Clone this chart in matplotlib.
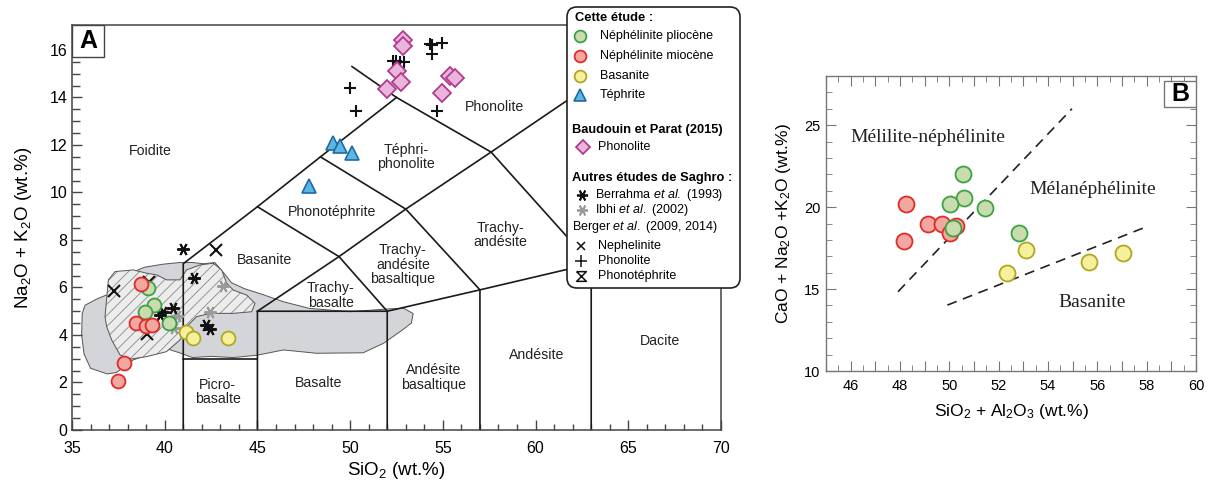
import numpy as np
import matplotlib.pyplot as plt
from matplotlib.patches import Polygon, FancyBboxPatch, Rectangle
from matplotlib.path import Path
from matplotlib.ticker import MultipleLocator, FuncFormatter

plt.rcParams['font.family'] = ['Liberation Sans', 'DejaVu Sans']
plt.rcParams['mathtext.fontset'] = 'custom'
plt.rcParams['mathtext.rm'] = 'Liberation Sans'
plt.rcParams['mathtext.it'] = 'Liberation Sans:italic'
plt.rcParams['mathtext.bf'] = 'Liberation Sans:bold'
plt.rcParams['hatch.linewidth'] = 0.6

# ---- panel A data (SiO2, Na2O+K2O) ----
plio_sio2 = [39.08, 39.42, 38.92, 40.24]
plio_alk = [5.98, 5.28, 4.96, 4.52]
mio_sio2 = [38.71, 38.47, 38.98, 39.32, 37.80, 37.50]
mio_alk = [6.15, 4.52, 4.37, 4.40, 2.83, 2.06]
bas_sio2 = [41.16, 41.50, 43.41]
bas_alk = [4.14, 3.88, 3.86]
teph_sio2 = [49.09, 49.45, 50.08, 47.78]
teph_alk = [12.10, 11.95, 11.68, 10.28]
bp_sio2 = [52.83, 52.83, 52.55, 52.73, 52.00, 55.38, 55.68, 54.93]
bp_alk = [16.42, 16.17, 15.13, 14.67, 14.34, 14.91, 14.81, 14.18]
berrahma_sio2 = [40.97, 41.57, 40.44, 39.93, 39.74, 42.24, 42.42]
berrahma_alk = [7.62, 6.40, 5.15, 4.96, 4.84, 4.42, 4.24]
ibhi_sio2 = [43.16, 42.42, 40.64, 40.50]
ibhi_alk = [6.06, 4.96, 4.80, 4.30]
berger_neph_sio2 = [37.26, 42.75, 39.05, 39.15]
berger_neph_alk = [5.87, 7.58, 4.05, 6.25]
berger_phono_sio2 = [49.99, 50.31, 52.30, 52.50, 52.70, 52.90, 54.30, 54.44, 54.98, 54.42, 54.71]
berger_phono_alk = [14.41, 13.45, 15.52, 15.52, 15.50, 15.50, 16.25, 16.22, 16.28, 15.82, 13.45]

# TAS field boundaries
tas_lines = [
    [(41, 0), (41, 7), (45, 9.4), (48.4, 11.5), (52.5, 14.0)],
    [(41, 3), (45, 3)],
    [(45, 0), (45, 5), (49.4, 7.3), (53, 9.3), (57.6, 11.7), (63, 14.56)],
    [(45, 9.4), (49.4, 7.3), (52, 5), (52, 0)],
    [(45, 5), (52, 5), (57, 5.9), (63, 7)],
    [(48.4, 11.5), (53, 9.3), (57, 5.9), (57, 0)],
    [(50.1, 15.3), (52.5, 14.0), (57.6, 11.7), (63, 7), (63, 0)],
]
tas_labels = [
    (39.23, 11.75, "Foidite"), (57.8, 13.6, "Phonolite"), (53.0, 11.5, "Téphri-\nphonolite"),
    (49.04, 9.18, "Phonotéphrite"), (58.1, 8.2, "Trachy-\nandésite"), (45.38, 7.16, "Basanite"),
    (52.85, 6.95, "Trachy-\nandésite\nbasaltique"), (48.96, 5.66, "Trachy-\nbasalte"),
    (42.87, 1.6, "Picro-\nbasalte"), (48.3, 1.98, "Basalte"), (54.5, 2.2, "Andésite\nbasaltique"),
    (60.07, 3.16, "Andésite"), (66.7, 3.75, "Dacite"),
]
gray_field = [
    (35.55, 4.9), (35.7, 5.25), (36.3, 5.5), (36.9, 5.7), (37.6, 6.3), (38.3, 6.65), (38.9, 6.85),
    (39.9, 6.98), (40.8, 7.05), (41.5, 7.05), (42.1, 7.0), (42.7, 7.05), (43.2, 6.6), (43.6, 6.2),
    (44.3, 5.95), (45.3, 5.7), (46.4, 5.4), (47.8, 5.12), (50.0, 4.98), (52.1, 5.1), (52.9, 5.12),
    (53.4, 4.9), (53.3, 4.5), (52.8, 4.2), (51.8, 3.65), (50.7, 3.25), (48.2, 3.23), (46.4, 3.37),
    (45.0, 3.15), (43.7, 3.05), (42.5, 3.1), (41.5, 3.05), (40.8, 3.25), (40.2, 3.4), (39.2, 3.2),
    (38.3, 2.95), (37.4, 2.42), (36.9, 2.36), (36.0, 2.6), (35.65, 3.2), (35.52, 4.0),
]
hatch_field = [
    (36.78, 4.77), (36.96, 6.32), (37.32, 6.67), (38.30, 6.74), (39.03, 6.60), (39.57, 6.53),
    (40.1, 6.32), (40.82, 6.32), (41.18, 6.74), (41.9, 6.95), (42.62, 7.02), (43.07, 6.74),
    (43.34, 6.18), (43.7, 5.89), (44.42, 5.68), (44.87, 5.33), (44.69, 4.98), (43.70, 4.91),
    (42.44, 4.91), (41.72, 4.77), (41.18, 4.35), (40.82, 3.79), (40.10, 3.30), (39.03, 3.09),
    (38.13, 2.98), (37.59, 3.16), (37.14, 3.79), (36.87, 4.35),
]

# ---- panel B data (SiO2+Al2O3, CaO+Na2O+K2O) ----
b_plio_x = [50.57, 50.61, 50.03, 51.46, 50.13, 52.82]
b_plio_y = [22.05, 20.57, 20.22, 19.92, 18.70, 18.40]
b_mio_x = [48.26, 48.16, 49.12, 49.72, 50.27, 50.03]
b_mio_y = [20.17, 17.94, 19.00, 19.00, 18.84, 18.42]
b_bas_x = [53.09, 52.34, 55.67, 57.03]
b_bas_y = [17.38, 15.99, 16.67, 17.18]
b_line1_x = [47.92, 54.97]
b_line1_y = [14.84, 26.0]
b_line2_x = [49.92, 57.99]
b_line2_y = [14.02, 18.8]
b_labels = [(49.14, 24.25, "Mélilite-néphélinite"), (55.8, 21.1, "Mélanéphélinite"), (55.8, 14.2, "Basanite")]

# marker styles
GREEN = dict(marker='o', mfc='#c8dcae', mec='#3da145', mew=1.3, ls='none')
RED = dict(marker='o', mfc='#f2a7a0', mec='#e02b2b', mew=1.3, ls='none')
YELLOW = dict(marker='o', mfc='#f6ef9c', mec='#b0a823', mew=1.3, ls='none')
BLUE = dict(marker='^', mfc='#5cb6e2', mec='#1f6aa5', mew=1.2, ls='none')
PINK = dict(marker='D', mfc='#e9b5da', mec='#b03b8f', mew=1.3, ls='none')
AST = (6, 2, 90)
HOURGLASS = Path([(-1, 1), (1, 1), (-1, -1), (1, -1), (-1, 1)])

fig = plt.figure(figsize=(12.15, 4.86), dpi=100)

# ===== panel A =====
ax = fig.add_axes([72 / 1215, 1 - 430 / 486, 649 / 1215, 405 / 486])
ax.set_xlim(35, 70)
ax.set_ylim(0, 17.05)
ax.add_patch(Polygon(gray_field, closed=True, fc='#d3d5d8', ec='#555555', lw=0.7, zorder=1))
ax.add_patch(Polygon(hatch_field, closed=True, fc='#ececec', ec='#8a8a8a', lw=0, hatch='///', zorder=1.2))
ax.add_patch(Polygon(hatch_field, closed=True, fc='none', ec='#555555', lw=0.7, zorder=1.3))
for seg in tas_lines:
    xs, ys = zip(*seg)
    ax.plot(xs, ys, color='#1a1a1a', lw=1.2, zorder=2, solid_joinstyle='miter')
for x, y, s in tas_labels:
    ax.text(x, y, s, ha='center', va='center', fontsize=10.2, color='#222222', linespacing=1.05, zorder=2.5)

ax.plot(ibhi_sio2, ibhi_alk, ls='none', marker=AST, ms=9, mec='#9a9a9a', mew=1.4, zorder=3)
ax.plot(berrahma_sio2, berrahma_alk, ls='none', marker=AST, ms=9, mec='#111111', mew=1.4, zorder=3)
ax.plot(berger_neph_sio2, berger_neph_alk, ls='none', marker='x', ms=8, mec='#111111', mew=1.5, zorder=3)
ax.plot(berger_phono_sio2, berger_phono_alk, ls='none', marker='+', ms=9, mec='#111111', mew=1.5, zorder=3)
ax.plot(plio_sio2, plio_alk, ms=10, zorder=4, **GREEN)
ax.plot(mio_sio2, mio_alk, ms=10, zorder=4, **RED)
ax.plot(bas_sio2, bas_alk, ms=10, zorder=4, **YELLOW)
ax.plot(teph_sio2, teph_alk, ms=10, zorder=4, **BLUE)
ax.plot(bp_sio2, bp_alk, ms=9.5, zorder=4, **PINK)

ax.xaxis.set_major_locator(MultipleLocator(5))
ax.xaxis.set_minor_locator(MultipleLocator(1))
ax.yaxis.set_major_locator(MultipleLocator(2))
ax.yaxis.set_minor_locator(MultipleLocator(0.5))
ax.tick_params(which='both', direction='in', labelsize=11.5, color='#444444', width=1)
ax.tick_params(which='major', length=7)
ax.tick_params(axis='x', which='major', pad=8)
ax.tick_params(axis='y', which='major', pad=3.5)
ax.tick_params(axis='x', which='minor', length=4)
ax.tick_params(axis='y', which='minor', length=6)
for sp in ax.spines.values():
    sp.set_color('#444444')
    sp.set_linewidth(1.1)
ax.set_xlabel("SiO$_2$ (wt.%)", fontsize=13.5, labelpad=3)
ax.set_ylabel("Na$_2$O + K$_2$O (wt.%)", fontsize=13.5, labelpad=11)
ax.add_patch(Rectangle((0, 1 - 32 / 405), 32 / 649, 32 / 405, transform=ax.transAxes,
                       fc='white', ec='#444444', lw=1.0, zorder=5))
ax.text(16 / 649, 1 - 16 / 405, "A", transform=ax.transAxes, ha='center', va='center',
        fontsize=18, fontweight='bold', zorder=6)

# ===== legend box (pixel coordinates) =====
lax = fig.add_axes([565 / 1215, 1 - 291 / 486, 177 / 1215, 286 / 486])
lax.set_xlim(565, 742)
lax.set_ylim(291, 5)
lax.axis('off')
lax.add_patch(FancyBboxPatch((567, 7), 173, 281, boxstyle="round,pad=0,rounding_size=10",
                             fc='white', ec='#222222', lw=1.2))
FS = 9.0
HS = 9.3
lax.text(575, 18, "Cette étude :", fontsize=HS, fontweight='bold', va='center')
lax.plot(580, 36, ms=8.5, **GREEN)
lax.plot(580, 56, ms=8.5, **RED)
lax.plot(580, 76, ms=8.5, **YELLOW)
lax.plot(580, 95, ms=8.5, **BLUE)
lax.text(600, 36, "Néphélinite pliocène", fontsize=FS, va='center')
lax.text(600, 56, "Néphélinite miocène", fontsize=FS, va='center')
lax.text(600, 76, "Basanite", fontsize=FS, va='center')
lax.text(600, 95, "Téphrite", fontsize=FS, va='center')
lax.text(572, 130, "Baudouin et Parat (2015)", fontsize=HS, fontweight='bold', va='center')
lax.plot(583, 147, ms=7.5, **PINK)
lax.text(598, 147, "Phonolite", fontsize=FS, va='center')
lax.text(572, 178, "Autres études de Saghro :", fontsize=HS, fontweight='bold', va='center')
lax.plot(582, 195, ls='none', marker=AST, ms=8, mec='#111111', mew=1.3)
lax.text(595, 195, r"Berrahma $\mathit{et\ al.}$ (1993)", fontsize=FS, va='center')
lax.plot(582, 210, ls='none', marker=AST, ms=8, mec='#9a9a9a', mew=1.3)
lax.text(595, 210, r"Ibhi $\mathit{et\ al.}$ (2002)", fontsize=FS, va='center')
lax.text(572, 227, r"Berger $\mathit{et\ al.}$ (2009, 2014)", fontsize=FS, va='center')
lax.plot(581, 246, ls='none', marker='x', ms=6, mec='#111111', mew=1.1)
lax.plot(581, 261, ls='none', marker='+', ms=9, mec='#111111', mew=1.1)
lax.plot(581, 276, ls='none', marker=HOURGLASS, ms=7, mfc='none', mec='#111111', mew=1.1)
lax.text(598, 246, "Nephelinite", fontsize=FS, va='center')
lax.text(598, 261, "Phonolite", fontsize=FS, va='center')
lax.text(598, 276, "Phonotéphrite", fontsize=FS, va='center')

# ===== panel B =====
bx = fig.add_axes([826 / 1215, 1 - 371 / 486, 370 / 1215, 295 / 486])
bx.set_xlim(45, 60)
bx.set_ylim(10, 28)
bx.plot(b_line1_x, b_line1_y, color='#222222', lw=1.2, ls=(0, (6, 4)), zorder=2)
bx.plot(b_line2_x, b_line2_y, color='#222222', lw=1.2, ls=(0, (6, 4)), zorder=2)
bx.plot(b_mio_x, b_mio_y, ms=11.5, zorder=3, **RED)
bx.plot(b_plio_x, b_plio_y, ms=11.5, zorder=4, **GREEN)
bx.plot(b_bas_x, b_bas_y, ms=11.5, zorder=4, **YELLOW)
for x, y, s in b_labels:
    bx.text(x, y, s, ha='center', va='center', fontsize=14, family=['Liberation Serif', 'DejaVu Serif'],
            color='#222222')
bx.xaxis.set_major_locator(MultipleLocator(1))
bx.xaxis.set_major_formatter(FuncFormatter(lambda v, p: f"{v:.0f}" if round(v) % 2 == 0 else ""))
bx.xaxis.set_minor_locator(MultipleLocator(0.5))
bx.yaxis.set_major_locator(MultipleLocator(5))
bx.yaxis.set_minor_locator(MultipleLocator(1))
bx.tick_params(which='both', direction='in', top=True, right=True, labelsize=10.5, color='#777777')
bx.tick_params(which='major', length=7)
bx.tick_params(axis='x', which='major', pad=6)
bx.tick_params(axis='y', which='major', pad=4)
bx.tick_params(which='minor', length=4)
for sp in bx.spines.values():
    sp.set_color('#777777')
    sp.set_linewidth(1.0)
bx.set_xlabel("SiO$_2$ + Al$_2$O$_3$ (wt.%)", fontsize=12.5, labelpad=6)
bx.set_ylabel("CaO + Na$_2$O +K$_2$O (wt.%)", fontsize=12.5, labelpad=8)
bx.add_patch(Rectangle((1 - 32 / 370, 1 - 31 / 295), 32 / 370, 26 / 295, transform=bx.transAxes,
                       fc='white', ec='#777777', lw=1.0, zorder=5))
bx.text(1 - 16 / 370, 1 - 18 / 295, "B", transform=bx.transAxes, ha='center', va='center',
        fontsize=18, fontweight='bold', zorder=6)

fig.savefig("out.png", dpi=100)
